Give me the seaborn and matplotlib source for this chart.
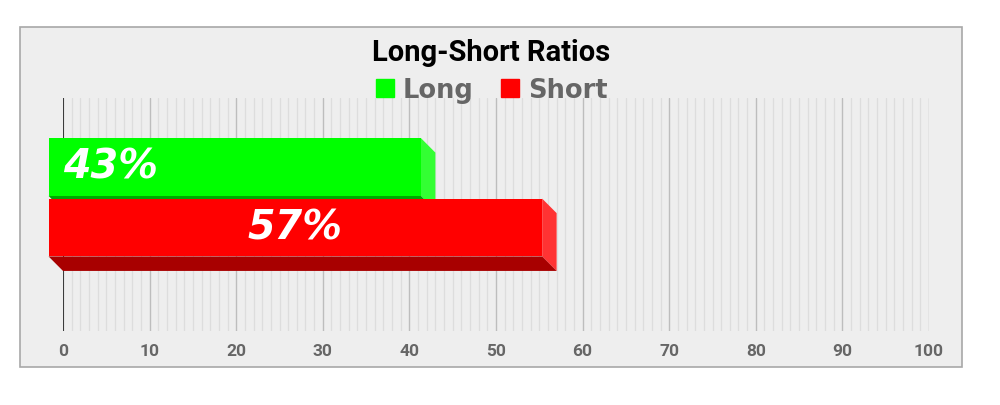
import matplotlib
matplotlib.use("Agg")
import matplotlib.pyplot as plt
from matplotlib.patches import Polygon, Rectangle
from matplotlib.lines import Line2D
import seaborn as sns

sides = ["Long", "Short"]
ratios = [43, 57]
labels = ["43%", "57%"]
front_colors = ["#00ff00", "#ff0000"]
side_colors = ["#33ff33", "#ff3333"]
bottom_colors = ["#00a800", "#a80000"]

sns.set_style("white")

fig = plt.figure(figsize=(10, 4.06), dpi=100)
fig.patch.set_facecolor("white")
fig.patches.append(Rectangle((20 / 1000, 1 - 368 / 406), 942 / 1000, 340 / 406,
                             transform=fig.transFigure, facecolor="#eeeeee",
                             edgecolor="#a8a8a8", linewidth=1.2, zorder=-5))

ax = fig.add_axes([0.063, 1 - 332 / 406, 0.866, 233 / 406])
ax.set_facecolor("none")
ax.set_zorder(2)

sns.barplot(x=ratios, y=sides, hue=sides, palette=front_colors, orient="h",
            width=0.955, legend=False, ax=ax, saturation=1, linewidth=0)

ax.set_xlim(0, 100)
ax.set_ylim(2.47, -1.38)

# depth of the 3D effect (data units)
DX = 1.67
DY = 0.24

for i, bar in enumerate(ax.patches[:len(ratios)]):
    x0 = bar.get_x()
    w = bar.get_width()
    y0 = bar.get_y()
    h = bar.get_height()
    x1 = x0 + w
    yt, yb = y0, y0 + h
    z = 2 + i
    side = Polygon([(x1 - DX, yt - DY), (x1, yt), (x1, yb), (x1 - DX, yb - DY)],
                   closed=True, facecolor=side_colors[i], edgecolor="none",
                   zorder=z, clip_on=False)
    bottom = Polygon([(x0 - DX, yb - DY), (x0, yb), (x1, yb), (x1 - DX, yb - DY)],
                     closed=True, facecolor=bottom_colors[i], edgecolor="none",
                     zorder=z, clip_on=False)
    ax.add_patch(side)
    ax.add_patch(bottom)
    bar.set_x(x0 - DX)
    bar.set_y(yt - DY)
    bar.set_zorder(z + 0.5)
    bar.set_clip_on(False)
    cy = yt - DY + h / 2
    if i == 0:
        ax.text(0, cy, labels[i], ha="left", va="center", color="white",
                fontsize=28.5, fontweight="bold", fontstyle="italic",
                family="DejaVu Sans", zorder=10)
    else:
        ax.text(x0 - DX + w / 2, cy, labels[i], ha="center", va="center",
                color="white", fontsize=28.5, fontweight="bold",
                fontstyle="italic", family="DejaVu Sans", zorder=10)

# grid
ax.set_xticks(range(0, 101, 10))
ax.set_xticks(range(0, 101, 1), minor=True)
ax.grid(which="minor", axis="x", color="#dddddd", linewidth=0.9, zorder=0)
ax.grid(which="major", axis="x", color="#bdbdbd", linewidth=1.0, zorder=0)
ax.set_axisbelow(True)
ax.axvline(0, color="#222222", linewidth=1.2, zorder=1)
ax.tick_params(axis="x", which="both", length=0, pad=9)
ax.tick_params(axis="y", length=0)
ax.set_yticks([])
for lab in ax.get_xticklabels():
    lab.set_fontfamily("Roboto")
    lab.set_fontweight("bold")
    lab.set_fontsize(12.5)
    lab.set_color("#666666")
for s in ax.spines.values():
    s.set_visible(False)
ax.set_xlabel("")
ax.set_ylabel("")

fig.text(0.491, 1 - 53 / 406, "Long-Short Ratios", ha="center", va="center",
         fontsize=21, fontweight="bold", family="Roboto", color="black")

handles = [Line2D([], [], marker="s", linestyle="none", markersize=13,
                  markerfacecolor=c, markeredgecolor=c) for c in front_colors]
leg = fig.legend(handles, sides, loc="center", bbox_to_anchor=(0.491, 1 - 91 / 406),
                 ncol=2, frameon=False, handletextpad=0.3, columnspacing=1.0,
                 handlelength=0.8,
                 prop={"family": "DejaVu Sans", "weight": "bold", "size": 18.5})
for t in leg.get_texts():
    t.set_color("#666666")

fig.savefig("out.png", dpi=100)
